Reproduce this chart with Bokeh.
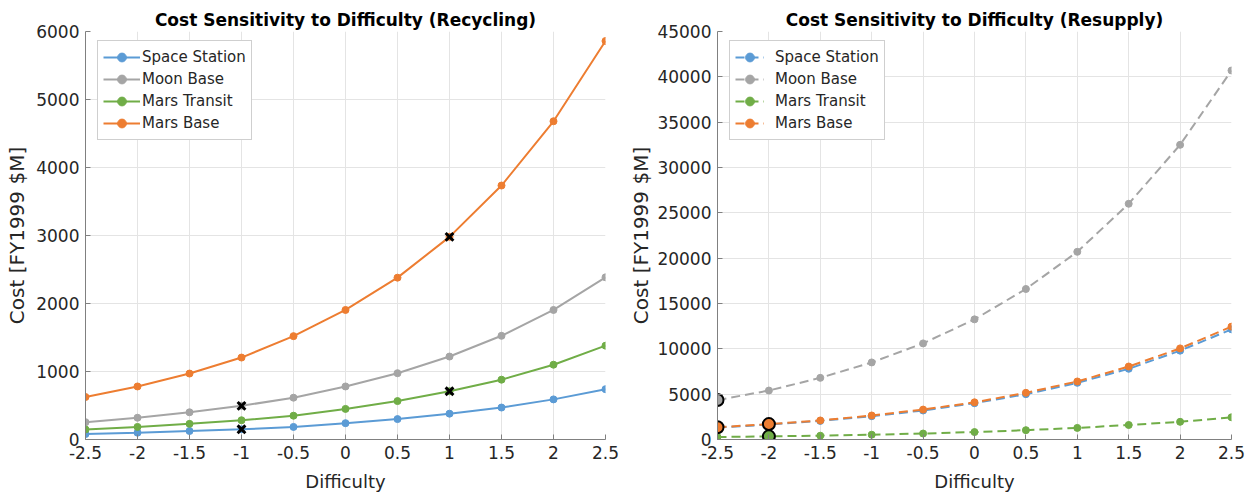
from bokeh.plotting import figure
from bokeh.layouts import row
from bokeh.models import FixedTicker, Legend, LegendItem, Range1d, BasicTickFormatter
from bokeh.embed import file_html
from bokeh.resources import INLINE

# ---------------- data ----------------
difficulty = [-2.5, -2.0, -1.5, -1.0, -0.5, 0.0, 0.5, 1.0, 1.5, 2.0, 2.5]
x_tick_labels = ["-2.5", "-2", "-1.5", "-1", "-0.5", "0", "0.5", "1", "1.5", "2", "2.5"]

series_names = ["Space Station", "Moon Base", "Mars Transit", "Mars Base"]
series_colors = ["#5B9BD5", "#A5A5A5", "#70AD47", "#ED7D31"]

# Recycling scenario [FY1999 $M]
space_station_recycling = [80, 100, 125, 150, 185, 240, 300, 380, 470, 590, 740]
moon_base_recycling = [255, 320, 400, 495, 615, 780, 975, 1220, 1525, 1905, 2385]
mars_transit_recycling = [148, 185, 230, 283, 350, 450, 565, 710, 880, 1100, 1380]
mars_base_recycling = [625, 780, 970, 1205, 1520, 1905, 2380, 2980, 3735, 4680, 5860]

# Resupply scenario [FY1999 $M]
space_station_resupply = [1320, 1650, 2050, 2570, 3200, 4000, 5000, 6250, 7800, 9800, 12150]
moon_base_resupply = [4350, 5400, 6800, 8500, 10600, 13250, 16600, 20700, 26000, 32500, 40700]
mars_transit_resupply = [270, 350, 420, 530, 660, 820, 1030, 1280, 1600, 1950, 2450]
mars_base_resupply = [1350, 1700, 2100, 2650, 3300, 4100, 5150, 6400, 8050, 10050, 12450]

recycling_y_ticks = [0, 1000, 2000, 3000, 4000, 5000, 6000]
resupply_y_ticks = [0, 5000, 10000, 15000, 20000, 25000, 30000, 35000, 40000, 45000]

# highlighted points: (series, difficulty)
recycling_marked = [("Moon Base", -1.0), ("Space Station", -1.0),
                    ("Mars Base", 1.0), ("Mars Transit", 1.0)]
resupply_marked = [("Moon Base", -2.5), ("Mars Base", -2.5),
                   ("Mars Base", -2.0), ("Mars Transit", -2.0)]

recycling = dict(zip(series_names, [space_station_recycling, moon_base_recycling,
                                    mars_transit_recycling, mars_base_recycling]))
resupply = dict(zip(series_names, [space_station_resupply, moon_base_resupply,
                                   mars_transit_resupply, mars_base_resupply]))

FONT = "DejaVu Sans"
TXT = "#262626"
AXC = "#808080"


def make_panel(title, data, yticks, dashed, marks, mark_kind, width, bl, br,
               glyph_width, label_standoff, ylabel_standoff):
    p = figure(width=width, height=496,
               x_range=Range1d(difficulty[0], difficulty[-1]),
               y_range=Range1d(yticks[0], yticks[-1]),
               output_backend="svg", toolbar_location=None,
               min_border_left=bl, min_border_right=br,
               min_border_top=31, min_border_bottom=57,
               title=title)
    p.outline_line_color = None
    p.background_fill_color = "white"
    p.border_fill_color = "white"
    p.title.text_font = FONT
    p.title.text_font_size = "17px"
    p.title.text_font_style = "bold"
    p.title.text_color = "black"
    p.title.align = "center"
    p.title.standoff = 4

    p.xaxis.ticker = FixedTicker(ticks=difficulty)
    p.xaxis.major_label_overrides = dict(zip(difficulty, x_tick_labels))
    p.yaxis.ticker = FixedTicker(ticks=yticks)
    p.yaxis.formatter = BasicTickFormatter(use_scientific=False)
    p.xaxis.axis_label = "Difficulty"
    p.yaxis.axis_label = "Cost [FY1999 $M]"
    for ax in (p.xaxis[0], p.yaxis[0]):
        ax.axis_line_color = AXC
        ax.axis_line_width = 1
        ax.major_tick_line_color = AXC
        ax.major_tick_in = 5
        ax.major_tick_out = 0
        ax.minor_tick_line_color = None
        ax.major_label_text_font = FONT
        ax.major_label_text_font_size = "17px"
        ax.major_label_text_color = TXT
        ax.major_label_standoff = 6
        ax.axis_label_text_font = FONT
        ax.axis_label_text_font_style = "normal"
        ax.axis_label_text_color = TXT
    p.xaxis.axis_label_text_font_size = "18px"
    p.yaxis.axis_label_text_font_size = "20px"
    p.xaxis.axis_label_standoff = 9
    p.yaxis.axis_label_standoff = ylabel_standoff
    p.grid.grid_line_color = "#e4e4e4"
    p.grid.grid_line_width = 1

    items = []
    for name, color in zip(series_names, series_colors):
        ys = data[name]
        lr = p.line(difficulty, ys, line_color=color, line_width=2,
                    line_dash="9 5" if dashed else "solid")
        sr = p.scatter(difficulty, ys, marker="circle", size=7,
                       fill_color=color, line_color=color)
        items.append(LegendItem(label=name, renderers=[lr, sr]))

    mx = [xv for _, xv in marks]
    my = [data[n][difficulty.index(xv)] for n, xv in marks]
    if mark_kind == "x":
        p.scatter(mx, my, marker="x", size=11, line_color="black", line_width=3)
    else:
        mc = [series_colors[series_names.index(n)] for n, _ in marks]
        p.scatter(mx, my, marker="circle", size=12, fill_color=mc,
                  line_color="black", line_width=2)

    legend = Legend(items=items, location=(12, 299), margin=0, padding=5,
                    spacing=0, label_height=22, glyph_height=22,
                    glyph_width=glyph_width, label_standoff=label_standoff,
                    label_text_font=FONT, label_text_font_size="15px",
                    label_text_color=TXT,
                    border_line_color="#a0a0a0", border_line_width=1,
                    background_fill_color="white", background_fill_alpha=1.0)
    p.add_layout(legend)
    return p


p1 = make_panel("Cost Sensitivity to Difficulty (Recycling)", recycling,
                recycling_y_ticks, False, recycling_marked, "x",
                width=626, bl=85, br=21, glyph_width=37, label_standoff=2,
                ylabel_standoff=4)
p2 = make_panel("Cost Sensitivity to Difficulty (Resupply)", resupply,
                resupply_y_ticks, True, resupply_marked, "o",
                width=625, bl=85, br=20, glyph_width=29, label_standoff=11,
                ylabel_standoff=1)

layout = row(p1, p2)
open("out.html", "w").write(file_html(layout, INLINE))
